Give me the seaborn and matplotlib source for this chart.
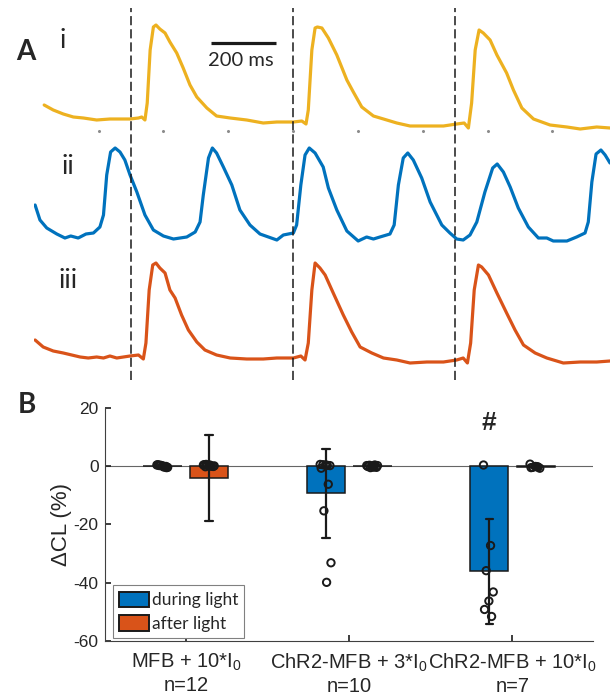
import numpy as np
import pandas as pd
import matplotlib
matplotlib.use("Agg")
import matplotlib.pyplot as plt
from matplotlib.patches import Patch
import seaborn as sns

# ---------------- Panel A: optical traces (time in ms, normalised amplitude) ----------------
t_i = [32, 60, 91, 122, 153, 194, 235, 266, 297, 323, 333, 343, 350, 359, 369, 377, 389, 405, 420, 441,
       461, 482, 503, 534, 564, 606, 657, 708, 750, 801, 827, 840, 847, 858, 868, 875, 889, 909, 935, 966,
       986, 1012, 1048, 1079, 1120, 1161, 1213, 1264, 1305, 1328, 1341, 1351, 1362, 1374, 1387, 1408, 1429,
       1459, 1480, 1506, 1542, 1593, 1645, 1686, 1737, 1778]
v_i = [0.25, 0.20, 0.16, 0.13, 0.12, 0.10, 0.11, 0.11, 0.11, 0.12, 0.13, 0.10, 0.27, 0.80, 1.03, 1.05, 1.01,
       0.97, 0.88, 0.77, 0.62, 0.45, 0.33, 0.22, 0.14, 0.12, 0.10, 0.07, 0.08, 0.08, 0.09, 0.06, 0.20, 0.80,
       1.02, 1.03, 1.02, 0.92, 0.75, 0.50, 0.38, 0.23, 0.14, 0.11, 0.07, 0.04, 0.04, 0.04, 0.06, 0.07, 0.02,
       0.27, 0.80, 1.00, 0.97, 0.90, 0.75, 0.57, 0.40, 0.22, 0.11, 0.05, 0.03, 0.01, 0.03, 0.02]

t_ii = [4, 19, 40, 71, 96, 114, 137, 161, 184, 204, 215, 225, 237, 251, 266, 281, 297, 318, 343, 369, 400,
        431, 472, 498, 513, 523, 539, 551, 564, 585, 611, 636, 667, 698, 724, 750, 770, 801, 811, 824, 837,
        850, 868, 893, 909, 935, 966, 1001, 1027, 1048, 1068, 1099, 1112, 1125, 1140, 1154, 1171, 1197, 1223,
        1259, 1284, 1305, 1325, 1346, 1367, 1392, 1416, 1430, 1449, 1470, 1495, 1526, 1557, 1583, 1603, 1645,
        1675, 1701, 1711, 1722, 1735, 1750, 1763, 1778]
v_ii = [0.35, 0.20, 0.12, 0.06, 0.02, 0.04, 0.02, 0.06, 0.07, 0.13, 0.25, 0.65, 0.88, 0.92, 0.88, 0.80, 0.65,
        0.48, 0.25, 0.10, 0.04, 0.01, 0.03, 0.08, 0.18, 0.45, 0.82, 0.92, 0.87, 0.73, 0.55, 0.30, 0.15, 0.06,
        0.03, 0.00, 0.05, 0.07, 0.15, 0.55, 0.85, 0.92, 0.87, 0.73, 0.52, 0.30, 0.09, -0.01, 0.03, 0.01, 0.03,
        0.06, 0.15, 0.55, 0.82, 0.87, 0.80, 0.62, 0.38, 0.15, 0.07, 0.01, 0.00, 0.05, 0.18, 0.48, 0.72, 0.76,
        0.68, 0.53, 0.32, 0.13, 0.02, 0.02, -0.01, -0.01, 0.03, 0.07, 0.18, 0.58, 0.86, 0.90, 0.85, 0.77]

t_iii = [4, 29, 60, 91, 117, 143, 168, 194, 215, 235, 256, 297, 323, 338, 346, 356, 367, 377, 389, 405, 420,
         436, 456, 477, 503, 528, 564, 606, 657, 708, 750, 801, 824, 837, 847, 858, 868, 883, 899, 924, 955,
         981, 1007, 1043, 1079, 1120, 1161, 1213, 1264, 1305, 1325, 1338, 1348, 1359, 1372, 1382, 1403, 1429,
         1459, 1485, 1511, 1547, 1583, 1634, 1686, 1737, 1778]
v_iii = [0.25, 0.18, 0.14, 0.12, 0.10, 0.08, 0.07, 0.08, 0.07, 0.09, 0.07, 0.09, 0.10, 0.06, 0.22, 0.75, 1.00,
         1.02, 0.97, 0.92, 0.75, 0.67, 0.50, 0.35, 0.23, 0.15, 0.10, 0.07, 0.06, 0.06, 0.07, 0.07, 0.09, 0.05,
         0.22, 0.75, 1.02, 0.97, 0.90, 0.72, 0.50, 0.33, 0.18, 0.12, 0.07, 0.05, 0.02, 0.03, 0.03, 0.05, 0.07,
         0.02, 0.22, 0.75, 1.00, 0.98, 0.90, 0.72, 0.52, 0.35, 0.20, 0.12, 0.07, 0.02, 0.03, 0.03, 0.04]

stim_ms = [300, 800, 1300]
tick_ms = [200, 400, 600, 800, 1000, 1200, 1400, 1600]
scalebar_ms = 200

# ---------------- Panel B: change in cycle length (%) ----------------
groups = ["MFB + 10*I$_{\\mathregular{0}}$",
          "ChR2-MFB + 3*I$_{\\mathregular{0}}$",
          "ChR2-MFB + 10*I$_{\\mathregular{0}}$"]
conditions = ["during light", "after light"]

g1_during = [0.3, -0.4, 0.1, -0.6, 0.0, 0.4, -0.3, 0.2, -0.5, -0.1, 0.2, -0.2]
g1_after = [0.3, 0.0, 0.5, -0.2, 0.1, 0.4, -0.1, 0.2, 0.0, 0.3, -0.3, -51.0]
g2_during = [0.5, 0.2, 0.4, 0.1, 0.3, -0.8, -6.3, -15.4, -33.2, -39.9]
g2_after = [0.1, -0.3, 0.2, -0.5, 0.0, -0.2, 0.3, -0.6, 0.1, -0.4]
g3_during = [0.3, -27.3, -35.9, -43.2, -46.3, -49.2, -51.6]
g3_after = [0.6, -0.3, -0.5, -0.8, -0.2, -0.6, -0.4]

blue = "#0072BD"
orange = "#D95319"
yellow = "#EDB120"
arial = ["Liberation Sans", "DejaVu Sans"]

sns.set_theme(style="white")
plt.rcParams["font.family"] = arial
plt.rcParams["mathtext.fontset"] = "custom"
plt.rcParams["mathtext.rm"] = "Liberation Sans"

fig = plt.figure(figsize=(6.1, 6.95), dpi=100)
W, H = 610, 695

# ---- panel A
axA = fig.add_axes([33.8 / W, 315 / H, 1 - 33.8 / W, 380 / H])
offsets = [2.35, 1.25, 0.0]
for t, v, off, c in [(t_i, v_i, offsets[0], yellow),
                     (t_ii, v_ii, offsets[1], blue),
                     (t_iii, v_iii, offsets[2], orange)]:
    sns.lineplot(x=t, y=np.array(v) + off, color=c, lw=2.3, ax=axA)

axA.vlines(stim_ms, -0.15, 3.57, colors="k", linestyles=(0, (6, 2.6)), lw=1.1)
axA.plot(tick_ms, [2.34] * len(tick_ms), ls="none", marker="o", ms=1.2, color="0.55")
axA.plot([548, 548 + scalebar_ms], [3.22, 3.22], color="k", lw=2.3, solid_capstyle="butt")
axA.text(640, 3.05, f"{scalebar_ms} ms", ha="center", va="center", fontsize=14.5, family="Lato")
for lab, x, y in [("i", 90, 3.24), ("ii", 104, 1.99), ("iii", 105, 0.84)]:
    axA.text(x, y, lab, ha="center", va="center", fontsize=19, family="Lato")
axA.set_xlim(0, 1778)
axA.set_ylim(-0.15, 3.65)
axA.axis("off")

fig.text(26 / W, 1 - 52 / H, "A", fontsize=20, fontweight="bold", family="Lato", ha="center", va="center")
fig.text(27 / W, 1 - 405 / H, "B", fontsize=20, fontweight="bold", family="Lato", ha="center", va="center")

# ---- panel B
data_b = {(groups[0], conditions[0]): g1_during, (groups[0], conditions[1]): g1_after,
          (groups[1], conditions[0]): g2_during, (groups[1], conditions[1]): g2_after,
          (groups[2], conditions[0]): g3_during, (groups[2], conditions[1]): g3_after}
rows = []
for (g, c), vals in data_b.items():
    for v in vals:
        rows.append({"group": g, "condition": c, "value": v})
df = pd.DataFrame(rows)

axB = fig.add_axes([105.5 / W, 54 / H, 487 / W, 233.5 / H])
axB.axhline(0, color="0.4", lw=0.8, zorder=0.5)
sns.barplot(data=df, x="group", y="value", hue="condition", order=groups, hue_order=conditions,
            palette=[blue, orange], saturation=1, width=0.57, gap=0.175, errorbar="sd", capsize=0.09,
            err_kws={"color": "k", "linewidth": 1.6}, edgecolor="k", linewidth=1.1,
            legend=False, ax=axB)

# individual points, spread a little around each bar centre
half = 0.57 / 4
xs, ys = [], []
for (g, c), vals in data_b.items():
    base = groups.index(g) + (-half if c == conditions[0] else half)
    n = len(vals)
    spread = ((np.arange(n) * 0.618) % 1 - 0.5) * 0.07
    xs.extend(base + spread)
    ys.extend(vals)
sns.scatterplot(x=xs, y=ys, ax=axB, s=28, facecolor="none", edgecolor="k", linewidth=1.4, zorder=3)

axB.text(2 - half, 14.8, "#", ha="center", va="center", fontsize=19, fontweight="bold", family=arial)

axB.set_xlim(-0.492, 2.49)
axB.set_ylim(-60, 20)
axB.set_yticks([-60, -40, -20, 0, 20])
counts = [len(g1_during), len(g2_during), len(g3_during)]
axB.set_xticks(range(3))
axB.set_xticklabels([f"{g}\nn={n}" for g, n in zip(groups, counts)], fontsize=14.5, color="0.1",
                    family=arial)
axB.set_yticklabels(["-60", "-40", "-20", "0", "20"], family=arial)
axB.tick_params(axis="y", labelsize=12.5, colors="0.15", direction="in", length=4, pad=5, left=True)
axB.tick_params(axis="x", direction="in", length=4, pad=8, bottom=True, colors="0.15")
axB.set_xlabel("")
axB.set_ylabel("\u0394CL (%)", fontsize=16, color="0.15", labelpad=1, family=arial)
for s in ["top", "right"]:
    axB.spines[s].set_visible(False)
for s in ["left", "bottom"]:
    axB.spines[s].set_color("0.25")
    axB.spines[s].set_linewidth(0.8)

handles = [Patch(facecolor=blue, edgecolor="k", lw=1.4, label=conditions[0]),
           Patch(facecolor=orange, edgecolor="k", lw=1.4, label=conditions[1])]
leg = axB.legend(handles=handles, loc="lower left", bbox_to_anchor=(0.015, 0.013), borderaxespad=0,
                 frameon=True, fancybox=False, edgecolor="0.5", framealpha=1, handlelength=1.75,
                 handleheight=1.0, handletextpad=0.15, borderpad=0.35, labelspacing=0.4,
                 prop={"family": "Lato", "size": 12.5})
leg.set_zorder(10)
leg.get_frame().set_linewidth(0.8)

fig.savefig("out.png", dpi=100)
